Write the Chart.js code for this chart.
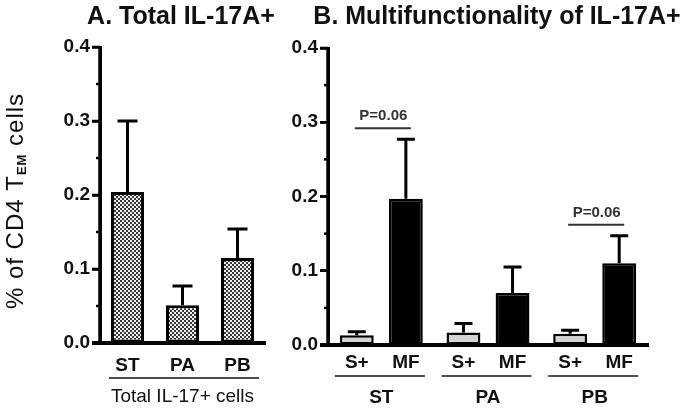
<!DOCTYPE html>
<html>
<head>
<meta charset="utf-8">
<script src="https://cdn.jsdelivr.net/npm/chart.js@4.4.0/dist/chart.umd.min.js"></script>
<style>
  body { margin: 0; background: #fff; }
  #wrap { position: relative; width: 688px; height: 410px; }
  canvas { position: absolute; top: 0; }
</style>
</head>
<body>
<div id="wrap">
  <canvas id="chartA" width="285" height="410" style="left:0"></canvas>
  <canvas id="chartB" width="403" height="410" style="left:285px"></canvas>
</div>
<script>
// panel A: total IL-17A+
const totalLabels = ["ST", "PA", "PB"];
const totalMeans = [0.204, 0.051, 0.115];
const totalErrors = [0.096, 0.026, 0.039];

// panel B: single (S+) vs multifunctional (MF)
const groupLabels = ["ST", "PA", "PB"];
const singleMeans = [0.013, 0.017, 0.015];
const singleErrors = [0.005, 0.012, 0.005];
const multiMeans = [0.197, 0.070, 0.110];
const multiErrors = [0.080, 0.035, 0.037];
const pNotes = [
  { group: "ST", text: "P=0.06" },
  { group: "PB", text: "P=0.06" },
];

const FAM = "'Liberation Sans', Arial, sans-serif";
const tickFont = { family: FAM, size: 19, weight: "bold" };

function checkerPattern(canvasId) {
  const c = document.createElement("canvas");
  c.width = 4;
  c.height = 4;
  const g = c.getContext("2d");
  g.fillStyle = "#f0f0f0";
  g.fillRect(0, 0, 4, 4);
  g.fillStyle = "#383838";
  g.fillRect(0, 0, 2, 2);
  g.fillRect(2, 2, 2, 2);
  return document.getElementById(canvasId).getContext("2d").createPattern(c, "repeat");
}

function errorBars(errors, cap) {
  return {
    id: "errorBars",
    afterDatasetsDraw(chart) {
      const ctx = chart.ctx;
      const y = chart.scales.y;
      ctx.save();
      ctx.strokeStyle = "#000";
      ctx.lineWidth = 3;
      chart.data.datasets.forEach((ds, di) => {
        chart.getDatasetMeta(di).data.forEach((bar, i) => {
          const top = y.getPixelForValue(ds.data[i] + errors[di][i]);
          ctx.beginPath();
          ctx.moveTo(bar.x, bar.y);
          ctx.lineTo(bar.x, top);
          ctx.moveTo(bar.x - cap / 2, top);
          ctx.lineTo(bar.x + cap / 2, top);
          ctx.stroke();
        });
      });
      ctx.restore();
    },
  };
}

// short ticks between the labelled ones, plus heavier axis lines
const axisLines = {
  id: "axisLines",
  afterDatasetsDraw(chart) {
    const ctx = chart.ctx;
    const a = chart.chartArea;
    const y = chart.scales.y;
    ctx.save();
    ctx.strokeStyle = "#000";
    ctx.lineWidth = 2.5;
    for (let v = 0.05; v < 0.4; v += 0.1) {
      const py = y.getPixelForValue(v);
      ctx.beginPath();
      ctx.moveTo(a.left - 4, py);
      ctx.lineTo(a.left, py);
      ctx.stroke();
    }
    for (let v = 0; v <= 0.4001; v += 0.1) {
      const py = y.getPixelForValue(v);
      ctx.beginPath();
      ctx.moveTo(a.left - 8, py);
      ctx.lineTo(a.left, py);
      ctx.stroke();
    }
    ctx.lineWidth = 3.5;
    ctx.beginPath();
    ctx.moveTo(a.left, y.getPixelForValue(0.4) - 1);
    ctx.lineTo(a.left, a.bottom);
    ctx.stroke();
    ctx.lineWidth = 4;
    ctx.beginPath();
    ctx.moveTo(a.left - 8, a.bottom);
    ctx.lineTo(a.right, a.bottom);
    ctx.stroke();
    ctx.restore();
  },
};

function drawTitle(ctx, text, x) {
  ctx.save();
  ctx.font = "bold 25px " + FAM;
  ctx.fillStyle = "#111";
  ctx.textAlign = "center";
  ctx.textBaseline = "alphabetic";
  ctx.fillText(text, x, 24);
  ctx.restore();
}

const decorA = {
  id: "decorA",
  afterDraw(chart) {
    const ctx = chart.ctx;
    drawTitle(ctx, "A. Total IL-17A+", 181);

    // y axis title with subscript
    ctx.save();
    ctx.translate(23, 201);
    ctx.rotate(-Math.PI / 2);
    ctx.fillStyle = "#111";
    ctx.textBaseline = "alphabetic";
    ctx.letterSpacing = "1px";
    const main = "24px " + FAM;
    const sub = "bold 13px " + FAM;
    ctx.font = main;
    const w1 = ctx.measureText("% of CD4 T").width;
    const w3 = ctx.measureText(" cells").width;
    ctx.font = sub;
    const w2 = ctx.measureText("EM").width;
    let x = -(w1 + w2 + w3) / 2;
    ctx.font = main;
    ctx.fillText("% of CD4 T", x, 0);
    x += w1;
    ctx.font = sub;
    ctx.fillText("EM", x, 3);
    x += w2;
    ctx.font = main;
    ctx.fillText(" cells", x, 0);
    ctx.restore();

    // underline and caption below the categories
    const bars = chart.getDatasetMeta(0).data;
    const first = bars[0], last = bars[bars.length - 1];
    ctx.save();
    ctx.strokeStyle = "#111";
    ctx.lineWidth = 1.5;
    ctx.beginPath();
    ctx.moveTo(first.x - first.width / 2 - 2, 378);
    ctx.lineTo(last.x + last.width / 2 + 5, 378);
    ctx.stroke();
    ctx.font = "19px " + FAM;
    ctx.fillStyle = "#111";
    ctx.textAlign = "center";
    ctx.textBaseline = "middle";
    ctx.fillText("Total IL-17+ cells", (first.x + last.x) / 2, 397);
    ctx.restore();
  },
};

const decorB = {
  id: "decorB",
  afterDraw(chart) {
    const ctx = chart.ctx;
    drawTitle(ctx, "B. Multifunctionality of IL-17A+", 212);

    const y = chart.scales.y;
    const s = chart.getDatasetMeta(0).data;
    const m = chart.getDatasetMeta(1).data;
    ctx.save();
    ctx.fillStyle = "#111";
    ctx.strokeStyle = "#111";
    ctx.textAlign = "center";
    ctx.textBaseline = "middle";
    ctx.font = "bold 19px " + FAM;
    groupLabels.forEach((g, i) => {
      ctx.fillText(chart.data.datasets[0].label, s[i].x, 363);
      ctx.fillText(chart.data.datasets[1].label, m[i].x, 363);
      ctx.lineWidth = 1.5;
      ctx.beginPath();
      ctx.moveTo(s[i].x - s[i].width / 2 - 5, 376);
      ctx.lineTo(m[i].x + m[i].width / 2 + 2, 376);
      ctx.stroke();
    });

    ctx.font = "bold 15px " + FAM;
    ctx.fillStyle = "#333";
    ctx.strokeStyle = "#333";
    pNotes.forEach((p) => {
      const i = groupLabels.indexOf(p.group);
      const hi = Math.max(singleMeans[i] + singleErrors[i], multiMeans[i] + multiErrors[i]);
      const ly = y.getPixelForValue(hi) - 11;
      ctx.lineWidth = 2;
      ctx.beginPath();
      ctx.moveTo(s[i].x - 2, ly);
      ctx.lineTo(m[i].x + 5, ly);
      ctx.stroke();
      ctx.fillText(p.text, (s[i].x + m[i].x) / 2 + 2, ly - 12);
    });
    ctx.restore();
  },
};

function yScale(width) {
  return {
    min: 0,
    max: 0.4,
    ticks: {
      stepSize: 0.1,
      color: "#111",
      font: tickFont,
      padding: 2,
      callback: (v) => v.toFixed(1),
    },
    grid: { drawOnChartArea: false, tickLength: 8, tickWidth: 2.5, tickColor: "#000" },
    border: { color: "#000", width: 3 },
    afterFit(s) { s.width = width; },
  };
}

function xScale(height, pad) {
  return {
    grid: { display: false, drawTicks: false },
    border: { color: "#000", width: 4 },
    ticks: { color: "#111", font: tickFont, padding: pad },
    afterFit(s) { s.height = height; },
  };
}

new Chart(document.getElementById("chartA"), {
  type: "bar",
  data: {
    labels: totalLabels,
    datasets: [
      {
        data: totalMeans,
        backgroundColor: checkerPattern("chartA"),
        borderColor: "#000",
        borderWidth: 3,
        borderSkipped: false,
        barPercentage: 0.6,
        categoryPercentage: 1,
      },
    ],
  },
  options: {
    responsive: false,
    animation: false,
    layout: { padding: { top: 47, right: 20, left: 0, bottom: 0 } },
    plugins: { legend: { display: false }, tooltip: { enabled: false } },
    scales: { x: xScale(67, 11), y: yScale(100) },
  },
  plugins: [errorBars([totalErrors], 20), axisLines, decorA],
});

new Chart(document.getElementById("chartB"), {
  type: "bar",
  data: {
    labels: groupLabels,
    datasets: [
      {
        label: "S+",
        data: singleMeans,
        backgroundColor: "#d4d4d4",
        borderColor: "#000",
        borderWidth: 2.5,
        borderSkipped: false,
        barPercentage: 0.69,
        categoryPercentage: 0.92,
      },
      {
        label: "MF",
        data: multiMeans,
        backgroundColor: "#000",
        borderColor: "#000",
        borderWidth: 2.5,
        borderSkipped: false,
        barPercentage: 0.69,
        categoryPercentage: 0.92,
      },
    ],
  },
  options: {
    responsive: false,
    animation: false,
    layout: { padding: { top: 48, right: 40, left: 0, bottom: 0 } },
    plugins: { legend: { display: false }, tooltip: { enabled: false } },
    scales: { x: xScale(65, 41), y: yScale(43) },
  },
  plugins: [errorBars([singleErrors, multiErrors], 18), axisLines, decorB],
});
</script>
</body>
</html>
